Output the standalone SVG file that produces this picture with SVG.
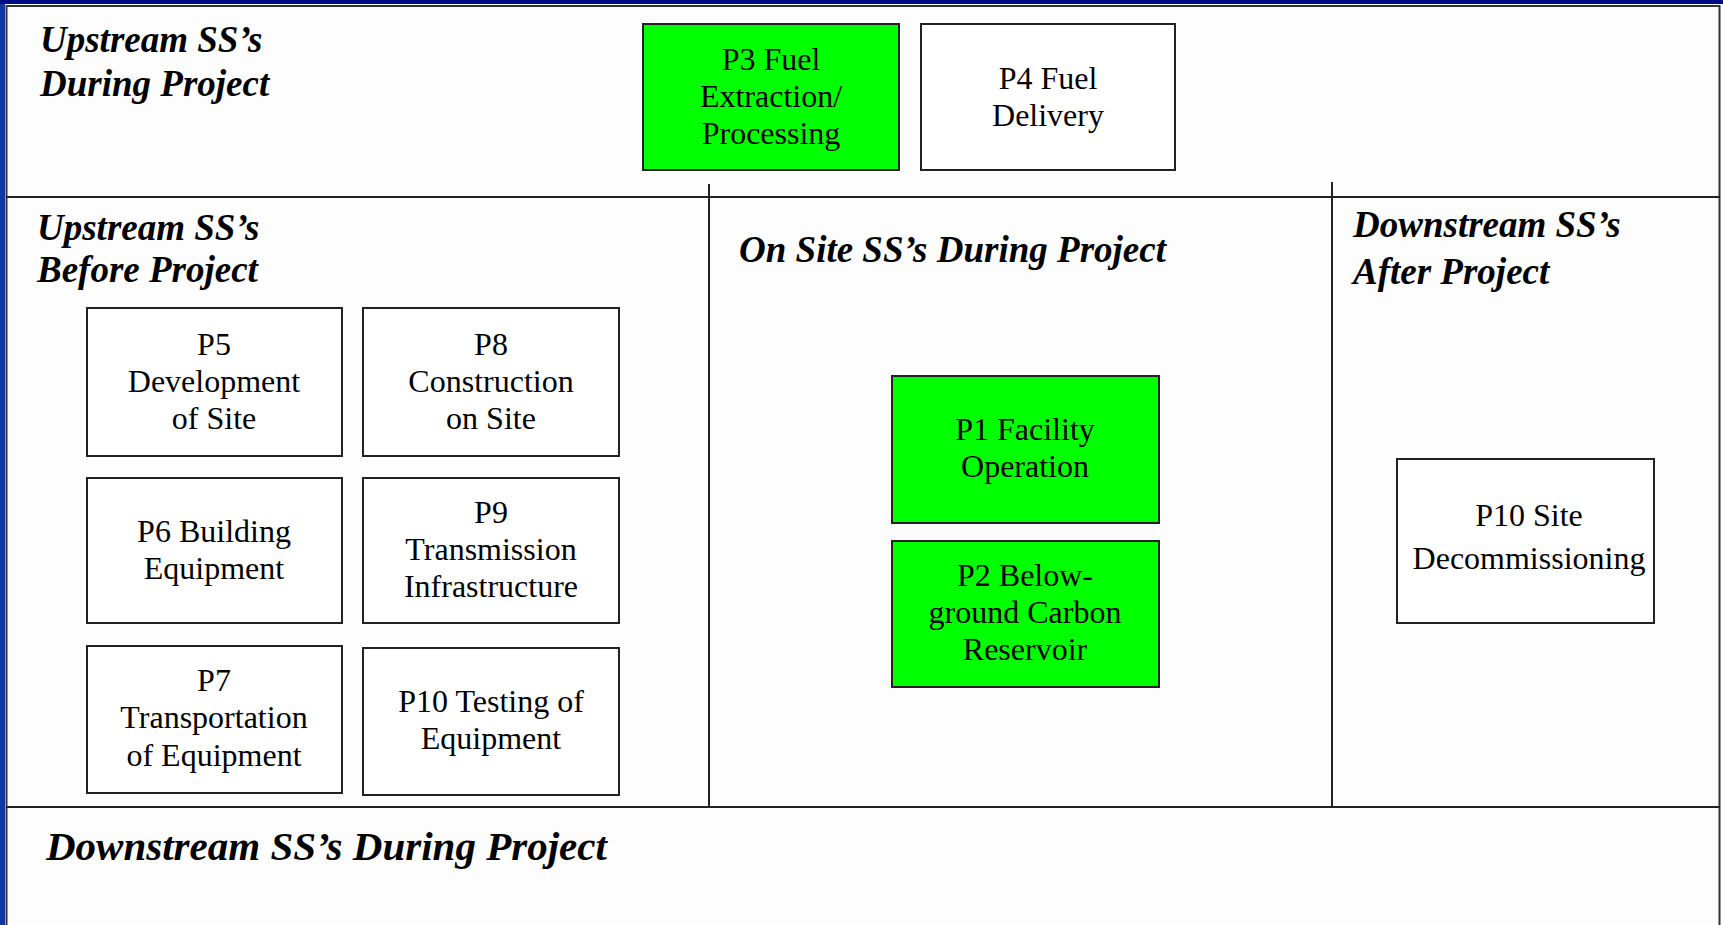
<svg xmlns="http://www.w3.org/2000/svg" width="1723" height="925" viewBox="0 0 1723 925">
  <style>
    .frame { fill: none; stroke: #333333; stroke-width: 2; }
    .rule { stroke: #222222; stroke-width: 2; }
    .box { fill: #ffffff; stroke: #222222; stroke-width: 2; }
    .box.green { fill: #00ff00; }
    .label { font-family: "Liberation Serif", "Times New Roman", serif; font-size: 32px; fill: #000000; text-anchor: middle; }
    .head { font-family: "Liberation Serif", "Times New Roman", serif; font-size: 37px; font-weight: bold; font-style: italic; fill: #000000; }
    .head.big { font-size: 41px; }
  </style>

  <!-- slide background and outer edges -->
  <rect x="0" y="0" width="1723" height="925" fill="#fdfdfd"/>
  <rect x="0" y="0" width="5" height="925" fill="#1035a5"/>
  <rect x="0" y="0" width="1723" height="4" fill="#000c85"/>
  <rect class="frame" x="6.5" y="6" width="1713" height="925"/>

  <!-- section dividers -->
  <g id="connectors">
    <line class="rule" x1="6" y1="197" x2="1720" y2="197"/>
    <line class="rule" x1="6" y1="807" x2="1720" y2="807"/>
    <line class="rule" x1="709" y1="184" x2="709" y2="807"/>
    <line class="rule" x1="1332" y1="182" x2="1332" y2="807"/>
  </g>

  <!-- section headings -->
  <g id="heading-upstream-during">
    <text class="head" x="40" y="52">Upstream SS’s</text>
    <text class="head" x="40" y="96">During Project</text>
  </g>
  <g id="heading-upstream-before">
    <text class="head" x="37" y="240">Upstream SS’s</text>
    <text class="head" x="37" y="282">Before Project</text>
  </g>
  <g id="heading-onsite">
    <text class="head" x="739" y="262">On Site SS’s During Project</text>
  </g>
  <g id="heading-downstream-after">
    <text class="head" x="1353" y="237">Downstream SS’s</text>
    <text class="head" x="1353" y="284">After Project</text>
  </g>
  <g id="heading-downstream-during">
    <text class="head big" x="46" y="860">Downstream SS’s During Project</text>
  </g>

  <!-- process boxes -->
  <g id="p3">
    <rect class="box green" x="643" y="24" width="256" height="146"/>
    <text class="label" x="771" y="70">P3 Fuel</text>
    <text class="label" x="771" y="107">Extraction/</text>
    <text class="label" x="771" y="144">Processing</text>
  </g>
  <g id="p4">
    <rect class="box" x="921" y="24" width="254" height="146"/>
    <text class="label" x="1048" y="89">P4 Fuel</text>
    <text class="label" x="1048" y="126">Delivery</text>
  </g>
  <g id="p5">
    <rect class="box" x="87" y="308" width="255" height="148"/>
    <text class="label" x="214" y="355">P5</text>
    <text class="label" x="214" y="392">Development</text>
    <text class="label" x="214" y="429">of Site</text>
  </g>
  <g id="p8">
    <rect class="box" x="363" y="308" width="256" height="148"/>
    <text class="label" x="491" y="355">P8</text>
    <text class="label" x="491" y="392">Construction</text>
    <text class="label" x="491" y="429">on Site</text>
  </g>
  <g id="p6">
    <rect class="box" x="87" y="478" width="255" height="145"/>
    <text class="label" x="214" y="542">P6 Building</text>
    <text class="label" x="214" y="579">Equipment</text>
  </g>
  <g id="p9">
    <rect class="box" x="363" y="478" width="256" height="145"/>
    <text class="label" x="491" y="523">P9</text>
    <text class="label" x="491" y="560">Transmission</text>
    <text class="label" x="491" y="597">Infrastructure</text>
  </g>
  <g id="p7">
    <rect class="box" x="87" y="646" width="255" height="147"/>
    <text class="label" x="214" y="691">P7</text>
    <text class="label" x="214" y="728">Transportation</text>
    <text class="label" x="214" y="766">of Equipment</text>
  </g>
  <g id="p10-testing">
    <rect class="box" x="363" y="648" width="256" height="147"/>
    <text class="label" x="491" y="712">P10 Testing of</text>
    <text class="label" x="491" y="749">Equipment</text>
  </g>
  <g id="p1">
    <rect class="box green" x="892" y="376" width="267" height="147"/>
    <text class="label" x="1025" y="440">P1 Facility</text>
    <text class="label" x="1025" y="477">Operation</text>
  </g>
  <g id="p2">
    <rect class="box green" x="892" y="541" width="267" height="146"/>
    <text class="label" x="1025" y="586">P2 Below-</text>
    <text class="label" x="1025" y="623">ground Carbon</text>
    <text class="label" x="1025" y="660">Reservoir</text>
  </g>
  <g id="p10-site">
    <rect class="box" x="1397" y="459" width="257" height="164"/>
    <text class="label" x="1529" y="526">P10 Site</text>
    <text class="label" x="1529" y="569">Decommissioning</text>
  </g>
</svg>
